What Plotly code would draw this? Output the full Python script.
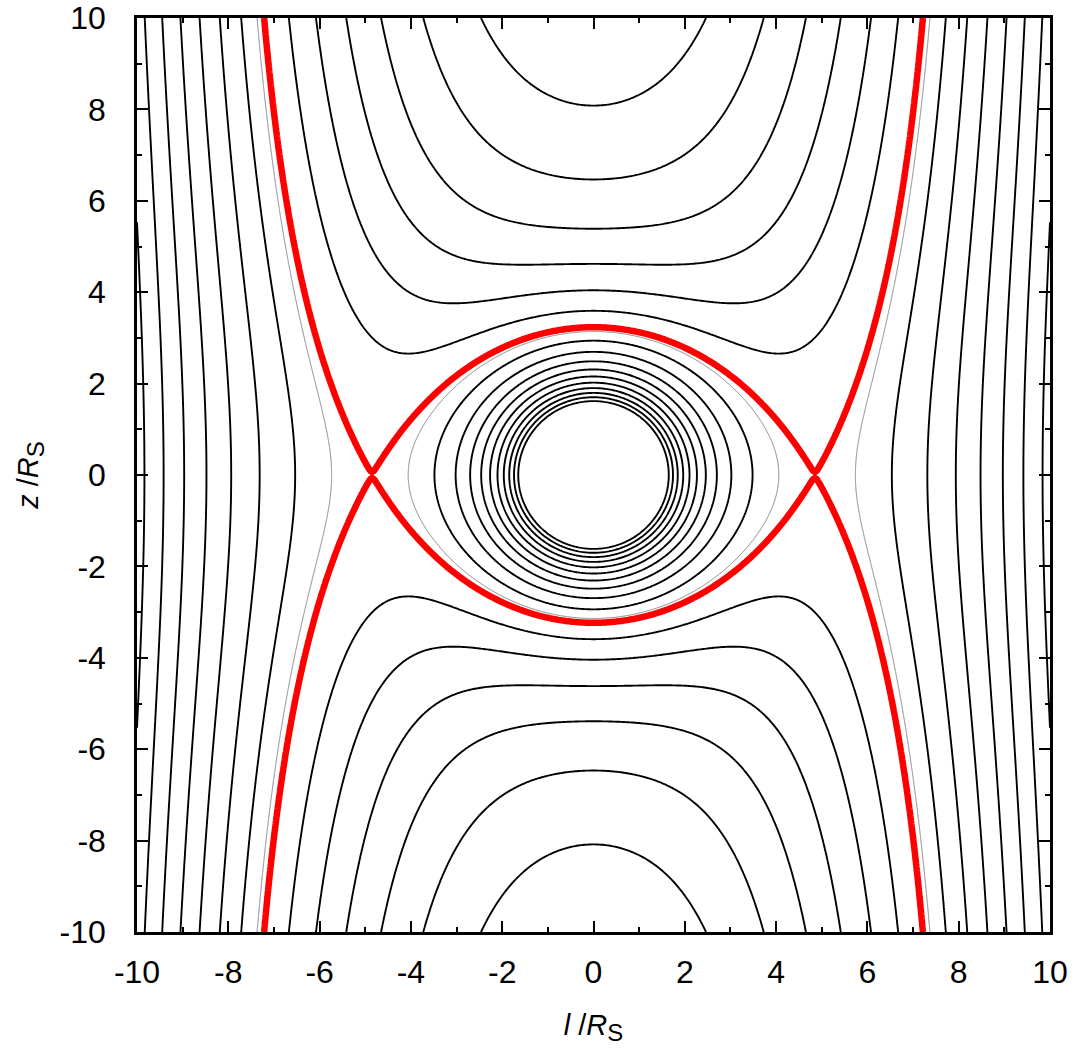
import numpy as np
import plotly.graph_objects as go

# --- values ---
SADDLE_L = 4.85            # X-point of the separatrix on the z = 0 axis (in R_S)
# contour levels, expressed as multiples of the potential at the X-point
BLACK_LEVELS = [0.4, 0.5, 0.6, 0.7, 0.8, 0.9, 1.1, 1.2, 1.3, 1.4,
                1.5, 1.6, 1.7, 1.8, 1.9, 2.0]
RED_LEVEL = 0.99995        # separatrix (drawn a hair above the X-point value)
GREY_LEVEL = 1.03          # thin grey contour just inside the separatrix
X_RANGE = [-10, 10]
Y_RANGE = [-10, 10]
TICK_VALS = [-10, -8, -6, -4, -2, 0, 2, 4, 6, 8, 10]
TICK_TEXT = ["-10", "-8", "-6", "-4", "-2", "0", "2", "4", "6", "8", "10"]

# --- effective potential of a point mass in a rotating frame, normalised to the X-point value ---
n = 601
l = np.linspace(X_RANGE[0], X_RANGE[1], n)
z = np.linspace(Y_RANGE[0], Y_RANGE[1], n)
L, Z = np.meshgrid(l, z)
R = np.sqrt(L**2 + Z**2)
R = np.maximum(R, 0.3)
phi = 1.0 / R + L**2 / (2 * SADDLE_L**3)
phi_s = 1.5 / SADDLE_L
psi = np.minimum(phi / phi_s, 5.0)

FONT = "Liberation Sans, Arial, Helvetica, sans-serif"

def contour_trace(levels_start, levels_end, size, color, width, xaxis="x"):
    return go.Contour(
        x=l, y=z, z=psi, xaxis=xaxis,
        autocontour=False,
        contours=dict(start=levels_start, end=levels_end, size=size, coloring="none"),
        line=dict(color=color, width=width, smoothing=0),
        showscale=False, hoverinfo="skip",
    )

fig = go.Figure()
step = 0.1
fig.add_trace(contour_trace(min(BLACK_LEVELS), max(BLACK_LEVELS) + 1e-6, step, "black", 1.9))
fig.add_trace(contour_trace(GREY_LEVEL, GREY_LEVEL + 1e-6, 1.0, "#808080", 1))
fig.add_trace(contour_trace(RED_LEVEL, RED_LEVEL + 1e-7, 1.0, "#ff0000", 6.5, xaxis="x2"))

tick_common = dict(
    showline=True, linecolor="black", linewidth=2.5,
    ticks="inside", ticklen=11, tickwidth=2, tickcolor="black",
    showgrid=False, zeroline=False, automargin=False,
    ticklabeloverflow="allow",
    tickvals=TICK_VALS, ticktext=TICK_TEXT,
    tickfont=dict(family=FONT, size=32, color="black"),
    minor=dict(ticks="inside", ticklen=5, tickwidth=1.5, tickcolor="black", dtick=1),
)

title_font = dict(family=FONT, size=29, color="black")
fig.update_layout(
    width=1079, height=1050,
    margin=dict(l=137, r=29, t=18, b=118),
    paper_bgcolor="white", plot_bgcolor="white",
    showlegend=False,
    xaxis=dict(range=X_RANGE, **tick_common, ticklabelstandoff=10,
               title=dict(text="<i>l</i> /<i>R</i><sub><span style='font-size:24px'>S</span></sub>",
                          font=title_font, standoff=26)),
    xaxis2=dict(range=X_RANGE, **tick_common, overlaying="x", side="top",
                showticklabels=False),
    yaxis=dict(range=Y_RANGE, **tick_common, mirror="ticks", ticklabelstandoff=22,
               title=dict(text="<i>z</i> /<i>R</i><sub><span style='font-size:24px'>S</span></sub>",
                          font=title_font, standoff=13)),
)

fig.write_html("out.html", config={"displayModeBar": False},
               post_script="document.body.style.margin='0';document.body.style.overflow='hidden';")
